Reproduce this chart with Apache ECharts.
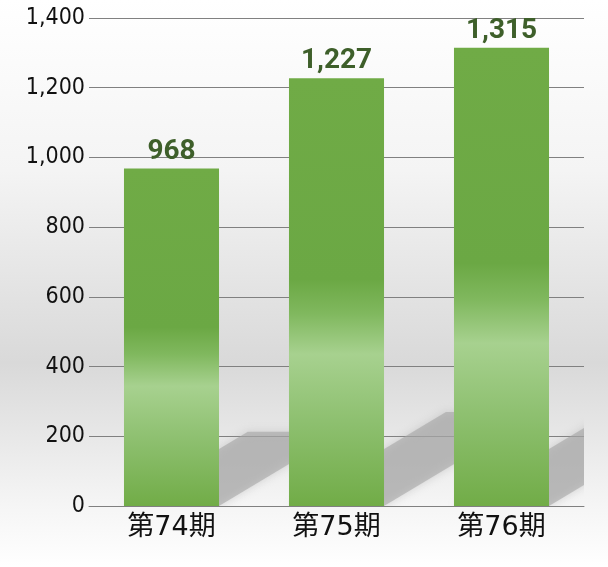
<!DOCTYPE html>
<html><head><meta charset="utf-8">
<script src="https://cdn.jsdelivr.net/npm/echarts@6/dist/echarts.min.js"></script>
<style>html,body{margin:0;padding:0;background:#fff}#c{width:608px;height:567px}</style>
</head><body><div id="c"></div>
<script>
const categories = ['第74期', '第75期', '第76期'];
const values = [968, 1227, 1315];
const yTicks = { min: 0, max: 1400, interval: 200 };

const chart = echarts.init(document.getElementById('c'));
const numFont = '"DejaVu Sans Condensed", "DejaVu Sans", sans-serif';
const barGrad = new echarts.graphic.LinearGradient(0, 0, 0, 1, [
  { offset: 0, color: '#70ab46' },
  { offset: 0.47, color: '#6ba844' },
  { offset: 0.55, color: '#80b85e' },
  { offset: 0.645, color: '#a7d18f' },
  { offset: 0.8, color: '#8ec070' },
  { offset: 1, color: '#71ac47' }
]);
chart.setOption({
  backgroundColor: new echarts.graphic.LinearGradient(0, 0, 0, 1, [
    { offset: 0, color: '#ffffff' },
    { offset: 0.3, color: '#f4f4f4' },
    { offset: 0.64, color: '#d9d9d9' },
    { offset: 0.8, color: '#ebebeb' },
    { offset: 0.89, color: '#f5f5f5' },
    { offset: 1, color: '#ffffff' }
  ]),
  animation: false,
  grid: { left: 89, right: 24, top: 18, bottom: 61 },
  xAxis: {
    type: 'category', data: categories,
    axisLine: { lineStyle: { color: '#808080', width: 1 } },
    axisTick: { show: false },
    axisLabel: { color: '#111', fontSize: 27, margin: 8, fontFamily: '"DejaVu Sans", "Noto Sans CJK JP", sans-serif' }
  },
  yAxis: {
    type: 'value', min: yTicks.min, max: yTicks.max, interval: yTicks.interval,
    axisLine: { show: false }, axisTick: { show: false },
    splitLine: { lineStyle: { color: '#808080', width: 1 } },
    axisLabel: { color: '#111', fontSize: 23, margin: 4, fontFamily: numFont,
      formatter: v => v.toLocaleString('en-US') }
  },
  series: [
    {
      type: 'custom', z: 1, clip: true,
      data: values.map((v, i) => [i, v]),
      renderItem: (params, api) => {
        const i = api.value(0), v = api.value(1);
        const base = api.coord([i, 0]);
        const top = api.coord([i, v]);
        const bw = api.size([1, 0])[0] * 0.576;
        const h = base[1] - top[1];
        const xl = base[0] - bw / 2, xr = base[0] + bw / 2, y0 = base[1];
        const dx = 0.367 * h, dy = 0.22 * h;
        return {
          type: 'polygon',
          shape: { points: [[xl, y0], [xr, y0], [xr + dx, y0 - dy], [xl + dx, y0 - dy]] },
          style: { fill: 'rgba(165,165,165,0.6)', shadowBlur: 8, shadowColor: 'rgba(165,165,165,0.7)' }
        };
      }
    },
    {
      type: 'bar', z: 3, data: values, barWidth: '57.6%',
      itemStyle: { color: barGrad },
      label: { show: true, position: 'top', distance: 3, color: '#3e5f2a', fontSize: 28,
        fontWeight: 'bold', fontFamily: '"Roboto", sans-serif', formatter: p => p.value.toLocaleString('en-US') }
    }
  ]
});
</script></body></html>
